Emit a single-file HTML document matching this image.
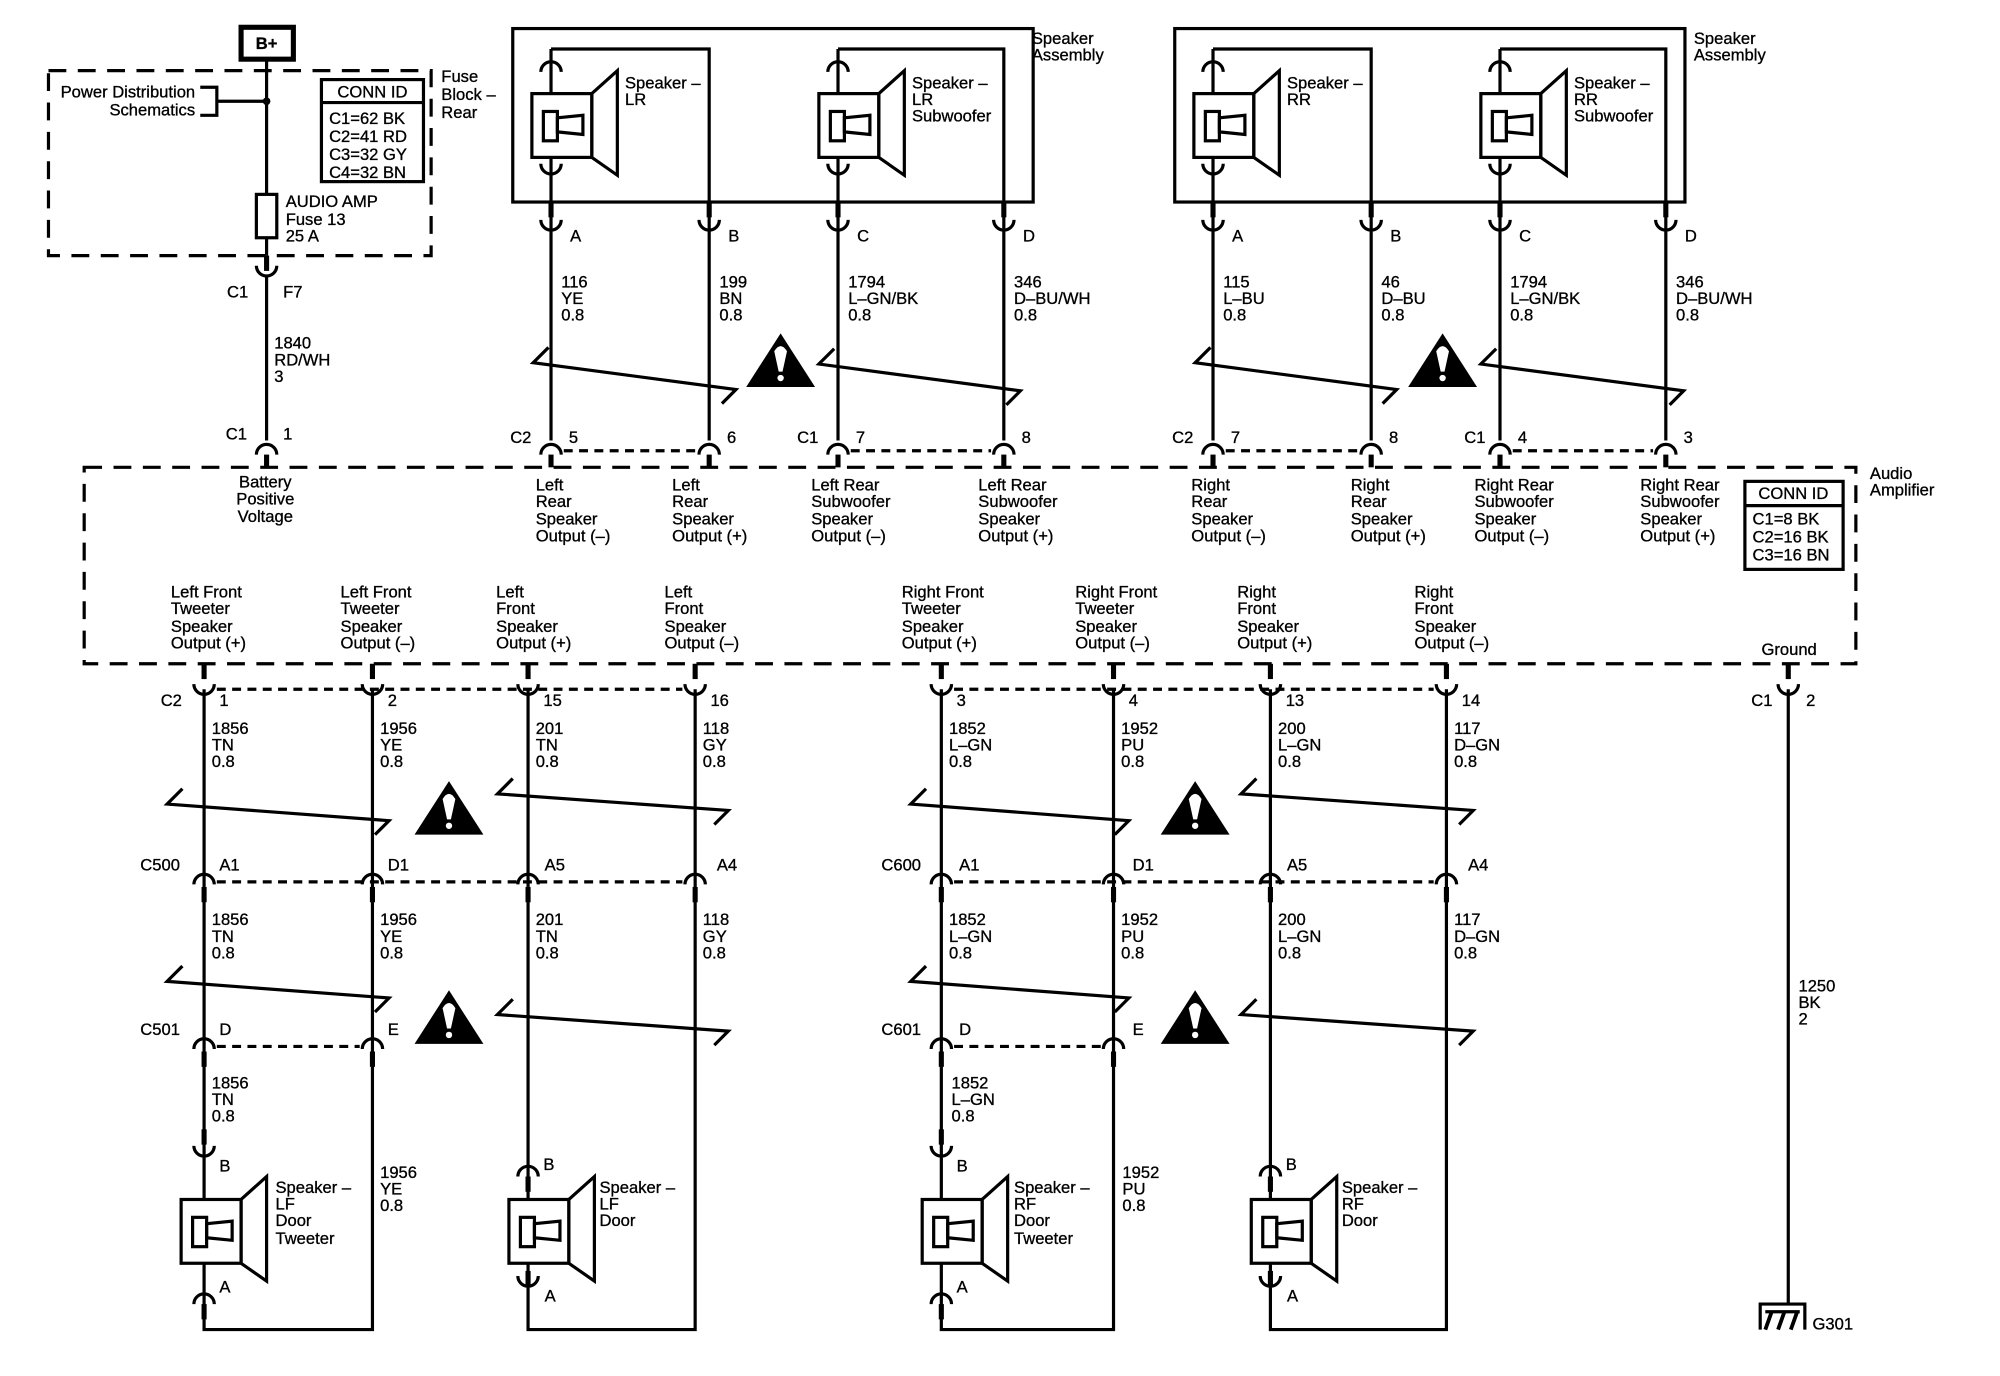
<!DOCTYPE html>
<html><head><meta charset="utf-8"><style>
html,body{margin:0;padding:0;background:#fff}
svg{display:block}
text{font-family:"Liberation Sans",sans-serif;font-size:13px;fill:#000;stroke:#000;stroke-width:0.25}
</style></head><body>
<svg width="2000" height="1376" viewBox="0 0 1568 1078" xmlns="http://www.w3.org/2000/svg">
<defs>
<path id="cap" d="M-8,4 A8,8 0 0 1 8,4" fill="none" stroke="#000" stroke-width="2.5"/>
<path id="cup" d="M-8,-4 A8,8 0 0 0 8,-4" fill="none" stroke="#000" stroke-width="2.5"/>
<g id="spk" fill="none" stroke="#000" stroke-width="2.5">
<rect x="-15" y="0" width="47" height="50" fill="#fff"/>
<polygon points="32,0 52,-18 52,64 32,50"/>
<rect x="-6" y="14" width="11" height="23" fill="#fff"/>
<polygon points="5,19 25,17 25,32 5,30"/>
</g>
<g id="warn"><polygon points="-27,20 0,-22 27,20" fill="#000"/><path d="M-5,-8 Q0,-16 5,-8 L1.5,8 L-1.5,8 Z" fill="#fff"/><circle cx="0" cy="13" r="2.5" fill="#fff"/></g>
</defs>
<g fill="none" stroke="#000" stroke-width="2.5">
<!-- B+ and fuse block -->
<rect x="189" y="21" width="41" height="25" stroke-width="4"/>
<rect x="38" y="55" width="300" height="145" stroke-dasharray="14,9"/>
<line x1="209" y1="46" x2="209" y2="200"/>
<line x1="209" y1="200" x2="209" y2="212" stroke-width="4"/>
<line x1="209" y1="216" x2="209" y2="345"/>
<line x1="209" y1="356" x2="209" y2="366" stroke-width="4"/>
<polyline points="157,68 170,68 170,90 157,90"/>
<line x1="170" y1="79" x2="209" y2="79"/>
<rect x="201" y="152" width="16" height="34" fill="#fff"/>
<rect x="252" y="62" width="80" height="80"/>
<line x1="252" y1="80" x2="332" y2="80"/>
<!-- amp -->
<rect x="66" y="366" width="1389" height="154" stroke-dasharray="14,9"/>
<rect x="1368" y="377" width="77" height="69"/>
<line x1="1368" y1="396" x2="1445" y2="396"/>
<!-- speaker assemblies -->
<rect x="402" y="22" width="408" height="136"/>
<rect x="921" y="22" width="400" height="136"/>
<polyline points="432,38 556,38 556,345"/>
<polyline points="657,38 787,38 787,345"/>
<polyline points="951,38 1075,38 1075,345"/>
<polyline points="1176,38 1306,38 1306,345"/>
<line x1="432" y1="38" x2="432" y2="345"/>
<line x1="657" y1="38" x2="657" y2="345"/>
<line x1="951" y1="38" x2="951" y2="345"/>
<line x1="1176" y1="38" x2="1176" y2="345"/>
<g stroke-width="4">
<line x1="432" y1="158" x2="432" y2="170"/><line x1="556" y1="158" x2="556" y2="170"/><line x1="657" y1="158" x2="657" y2="170"/><line x1="787" y1="158" x2="787" y2="170"/>
<line x1="951" y1="158" x2="951" y2="170"/><line x1="1075" y1="158" x2="1075" y2="170"/><line x1="1176" y1="158" x2="1176" y2="170"/><line x1="1306" y1="158" x2="1306" y2="170"/>
<line x1="432" y1="356" x2="432" y2="366"/><line x1="556" y1="356" x2="556" y2="366"/><line x1="657" y1="356" x2="657" y2="366"/><line x1="787" y1="356" x2="787" y2="366"/>
<line x1="951" y1="356" x2="951" y2="366"/><line x1="1075" y1="356" x2="1075" y2="366"/><line x1="1176" y1="356" x2="1176" y2="366"/><line x1="1306" y1="356" x2="1306" y2="366"/>
</g>
<g stroke-dasharray="7,5">
<line x1="442" y1="353" x2="546" y2="353"/><line x1="667" y1="353" x2="777" y2="353"/>
<line x1="961" y1="353" x2="1065" y2="353"/><line x1="1186" y1="353" x2="1296" y2="353"/>
<line x1="170" y1="540" x2="535" y2="540"/><line x1="748" y1="540" x2="1124" y2="540"/>
<line x1="170" y1="691" x2="535" y2="691"/><line x1="748" y1="691" x2="1124" y2="691"/>
<line x1="170" y1="820" x2="282" y2="820"/><line x1="748" y1="820" x2="863" y2="820"/>
</g>
<!-- twist marks -->
<polyline points="430,272 418,284 577,305 566,316"/>
<polyline points="654,273 642,285 800,306 789,317"/>
<polyline points="949,272 937,284 1095,305 1084,316"/>
<polyline points="1173,273 1161,285 1320,306 1309,317"/>
<polyline points="143,618 131,630 305,643 294,654"/>
<polyline points="402,610 390,622 571,635 560,646"/>
<polyline points="726,618 714,630 885,643 874,654"/>
<polyline points="985,610 973,622 1155,635 1144,646"/>
<polyline points="143,757 131,769 305,782 294,793"/>
<polyline points="402,783 390,795 571,808 560,819"/>
<polyline points="726,757 714,769 885,782 874,793"/>
<polyline points="985,783 973,795 1155,808 1144,819"/>
<!-- bottom stubs from amp -->
<g stroke-width="4">
<line x1="160" y1="520" x2="160" y2="532"/><line x1="292" y1="520" x2="292" y2="532"/><line x1="414" y1="520" x2="414" y2="532"/><line x1="545" y1="520" x2="545" y2="532"/>
<line x1="738" y1="520" x2="738" y2="532"/><line x1="873" y1="520" x2="873" y2="532"/><line x1="996" y1="520" x2="996" y2="532"/><line x1="1134" y1="520" x2="1134" y2="532"/>
<line x1="1402" y1="520" x2="1402" y2="532"/>
<line x1="160" y1="695" x2="160" y2="707"/><line x1="292" y1="695" x2="292" y2="707"/><line x1="414" y1="695" x2="414" y2="707"/><line x1="545" y1="695" x2="545" y2="707"/>
<line x1="738" y1="695" x2="738" y2="707"/><line x1="873" y1="695" x2="873" y2="707"/><line x1="996" y1="695" x2="996" y2="707"/><line x1="1134" y1="695" x2="1134" y2="707"/>
<line x1="160" y1="824" x2="160" y2="836"/><line x1="292" y1="824" x2="292" y2="836"/><line x1="738" y1="824" x2="738" y2="836"/><line x1="873" y1="824" x2="873" y2="836"/>
<line x1="160" y1="885" x2="160" y2="897"/><line x1="738" y1="885" x2="738" y2="897"/>
<line x1="414" y1="922" x2="414" y2="934"/><line x1="996" y1="922" x2="996" y2="934"/>
<line x1="414" y1="996" x2="414" y2="1008"/><line x1="996" y1="996" x2="996" y2="1008"/>
<line x1="160" y1="1022" x2="160" y2="1034"/><line x1="738" y1="1022" x2="738" y2="1034"/>
</g>
<!-- bottom wires -->
<polyline points="160,540 160,1042 292,1042 292,540"/>
<polyline points="414,540 414,1042 545,1042 545,540"/>
<polyline points="738,540 738,1042 873,1042 873,540"/>
<polyline points="996,540 996,1042 1134,1042 1134,540"/>
<line x1="1402" y1="540" x2="1402" y2="1022"/>
<polyline points="1380,1042 1380,1022 1415,1022 1415,1042"/>
<line x1="1384" y1="1042" x2="1389" y2="1028" stroke-width="3"/>
<line x1="1394" y1="1042" x2="1399" y2="1028" stroke-width="3"/>
<line x1="1404" y1="1042" x2="1409" y2="1028" stroke-width="3"/>
<line x1="1384" y1="1028" x2="1411" y2="1028"/>
</g>
<circle cx="209" cy="79" r="3"/>
<!-- connectors -->
<use href="#cup" x="209" y="212"/>
<use href="#cap" x="209" y="352"/>
<use href="#cap" x="432" y="52"/><use href="#cup" x="432" y="132"/>
<use href="#cap" x="657" y="52"/><use href="#cup" x="657" y="132"/>
<use href="#cap" x="951" y="52"/><use href="#cup" x="951" y="132"/>
<use href="#cap" x="1176" y="52"/><use href="#cup" x="1176" y="132"/>
<use href="#cup" x="432" y="176"/><use href="#cup" x="556" y="176"/><use href="#cup" x="657" y="176"/><use href="#cup" x="787" y="176"/>
<use href="#cup" x="951" y="176"/><use href="#cup" x="1075" y="176"/><use href="#cup" x="1176" y="176"/><use href="#cup" x="1306" y="176"/>
<use href="#cap" x="432" y="352"/><use href="#cap" x="556" y="352"/><use href="#cap" x="657" y="352"/><use href="#cap" x="787" y="352"/>
<use href="#cap" x="951" y="352"/><use href="#cap" x="1075" y="352"/><use href="#cap" x="1176" y="352"/><use href="#cap" x="1306" y="352"/>
<use href="#cup" x="160" y="540"/><use href="#cup" x="292" y="540"/><use href="#cup" x="414" y="540"/><use href="#cup" x="545" y="540"/>
<use href="#cup" x="738" y="540"/><use href="#cup" x="873" y="540"/><use href="#cup" x="996" y="540"/><use href="#cup" x="1134" y="540"/>
<use href="#cup" x="1402" y="540"/>
<use href="#cap" x="160" y="689"/><use href="#cap" x="292" y="689"/><use href="#cap" x="414" y="689"/><use href="#cap" x="545" y="689"/>
<use href="#cap" x="738" y="689"/><use href="#cap" x="873" y="689"/><use href="#cap" x="996" y="689"/><use href="#cap" x="1134" y="689"/>
<use href="#cap" x="160" y="818"/><use href="#cap" x="292" y="818"/><use href="#cap" x="738" y="818"/><use href="#cap" x="873" y="818"/>
<use href="#cup" x="160" y="902"/><use href="#cup" x="738" y="902"/>
<use href="#cap" x="414" y="918"/><use href="#cap" x="996" y="918"/>
<use href="#cup" x="414" y="1004"/><use href="#cup" x="996" y="1004"/>
<use href="#cap" x="160" y="1018"/><use href="#cap" x="738" y="1018"/>
<!-- speakers -->
<use href="#spk" x="432" y="73"/><use href="#spk" x="657" y="73"/><use href="#spk" x="951" y="73"/><use href="#spk" x="1176" y="73"/>
<use href="#spk" x="157" y="940"/><use href="#spk" x="414" y="940"/><use href="#spk" x="738" y="940"/><use href="#spk" x="996" y="940"/>
<!-- warnings -->
<use href="#warn" x="612" y="283"/><use href="#warn" x="1131" y="283"/>
<use href="#warn" x="352" y="634"/><use href="#warn" x="937" y="634"/>
<use href="#warn" x="352" y="798"/><use href="#warn" x="937" y="798"/>
<!-- texts -->
<text x="209" y="38" text-anchor="middle" font-weight="bold">B+</text>
<text x="153" y="76" text-anchor="end">Power Distribution</text>
<text x="153" y="90" text-anchor="end">Schematics</text>
<text x="292" y="76" text-anchor="middle">CONN ID</text>
<text x="258" y="97">C1=62 BK</text><text x="258" y="111">C2=41 RD</text><text x="258" y="125">C3=32 GY</text><text x="258" y="139">C4=32 BN</text>
<text x="346" y="64">Fuse</text><text x="346" y="78">Block –</text><text x="346" y="92">Rear</text>
<text x="224" y="162">AUDIO AMP</text><text x="224" y="176">Fuse 13</text><text x="224" y="189">25 A</text>
<text x="178" y="233">C1</text><text x="222" y="233">F7</text>
<text x="215" y="273">1840</text><text x="215" y="286">RD/WH</text><text x="215" y="299">3</text>
<text x="177" y="344">C1</text><text x="222" y="344">1</text>
<text x="208" y="382" text-anchor="middle">Battery</text><text x="208" y="395" text-anchor="middle">Positive</text><text x="208" y="409" text-anchor="middle">Voltage</text>
<text x="809" y="34">Speaker</text><text x="809" y="47">Assembly</text>
<text x="1328" y="34">Speaker</text><text x="1328" y="47">Assembly</text>
<text x="490" y="69">Speaker –</text><text x="490" y="82">LR</text>
<text x="715" y="69">Speaker –</text><text x="715" y="82">LR</text><text x="715" y="95">Subwoofer</text>
<text x="1009" y="69">Speaker –</text><text x="1009" y="82">RR</text>
<text x="1234" y="69">Speaker –</text><text x="1234" y="82">RR</text><text x="1234" y="95">Subwoofer</text>
<text x="447" y="189">A</text><text x="571" y="189">B</text><text x="672" y="189">C</text><text x="802" y="189">D</text>
<text x="966" y="189">A</text><text x="1090" y="189">B</text><text x="1191" y="189">C</text><text x="1321" y="189">D</text>
<text x="440" y="225">116</text><text x="440" y="238">YE</text><text x="440" y="251">0.8</text>
<text x="564" y="225">199</text><text x="564" y="238">BN</text><text x="564" y="251">0.8</text>
<text x="665" y="225">1794</text><text x="665" y="238">L–GN/BK</text><text x="665" y="251">0.8</text>
<text x="795" y="225">346</text><text x="795" y="238">D–BU/WH</text><text x="795" y="251">0.8</text>
<text x="959" y="225">115</text><text x="959" y="238">L–BU</text><text x="959" y="251">0.8</text>
<text x="1083" y="225">46</text><text x="1083" y="238">D–BU</text><text x="1083" y="251">0.8</text>
<text x="1184" y="225">1794</text><text x="1184" y="238">L–GN/BK</text><text x="1184" y="251">0.8</text>
<text x="1314" y="225">346</text><text x="1314" y="238">D–BU/WH</text><text x="1314" y="251">0.8</text>
<text x="400" y="347">C2</text><text x="446" y="347">5</text><text x="570" y="347">6</text>
<text x="625" y="347">C1</text><text x="671" y="347">7</text><text x="801" y="347">8</text>
<text x="919" y="347">C2</text><text x="965" y="347">7</text><text x="1089" y="347">8</text>
<text x="1148" y="347">C1</text><text x="1190" y="347">4</text><text x="1320" y="347">3</text>
<text x="420" y="384">Left</text><text x="420" y="397">Rear</text><text x="420" y="411">Speaker</text><text x="420" y="424">Output (–)</text>
<text x="527" y="384">Left</text><text x="527" y="397">Rear</text><text x="527" y="411">Speaker</text><text x="527" y="424">Output (+)</text>
<text x="636" y="384">Left Rear</text><text x="636" y="397">Subwoofer</text><text x="636" y="411">Speaker</text><text x="636" y="424">Output (–)</text>
<text x="767" y="384">Left Rear</text><text x="767" y="397">Subwoofer</text><text x="767" y="411">Speaker</text><text x="767" y="424">Output (+)</text>
<text x="934" y="384">Right</text><text x="934" y="397">Rear</text><text x="934" y="411">Speaker</text><text x="934" y="424">Output (–)</text>
<text x="1059" y="384">Right</text><text x="1059" y="397">Rear</text><text x="1059" y="411">Speaker</text><text x="1059" y="424">Output (+)</text>
<text x="1156" y="384">Right Rear</text><text x="1156" y="397">Subwoofer</text><text x="1156" y="411">Speaker</text><text x="1156" y="424">Output (–)</text>
<text x="1286" y="384">Right Rear</text><text x="1286" y="397">Subwoofer</text><text x="1286" y="411">Speaker</text><text x="1286" y="424">Output (+)</text>
<text x="1406" y="391" text-anchor="middle">CONN ID</text>
<text x="1374" y="411">C1=8 BK</text><text x="1374" y="425">C2=16 BK</text><text x="1374" y="439">C3=16 BN</text>
<text x="1466" y="375">Audio</text><text x="1466" y="388">Amplifier</text>
<text x="134" y="468">Left Front</text><text x="134" y="481">Tweeter</text><text x="134" y="495">Speaker</text><text x="134" y="508">Output (+)</text>
<text x="267" y="468">Left Front</text><text x="267" y="481">Tweeter</text><text x="267" y="495">Speaker</text><text x="267" y="508">Output (–)</text>
<text x="389" y="468">Left</text><text x="389" y="481">Front</text><text x="389" y="495">Speaker</text><text x="389" y="508">Output (+)</text>
<text x="521" y="468">Left</text><text x="521" y="481">Front</text><text x="521" y="495">Speaker</text><text x="521" y="508">Output (–)</text>
<text x="707" y="468">Right Front</text><text x="707" y="481">Tweeter</text><text x="707" y="495">Speaker</text><text x="707" y="508">Output (+)</text>
<text x="843" y="468">Right Front</text><text x="843" y="481">Tweeter</text><text x="843" y="495">Speaker</text><text x="843" y="508">Output (–)</text>
<text x="970" y="468">Right</text><text x="970" y="481">Front</text><text x="970" y="495">Speaker</text><text x="970" y="508">Output (+)</text>
<text x="1109" y="468">Right</text><text x="1109" y="481">Front</text><text x="1109" y="495">Speaker</text><text x="1109" y="508">Output (–)</text>
<text x="1381" y="513">Ground</text>
<text x="126" y="553">C2</text><text x="172" y="553">1</text><text x="304" y="553">2</text><text x="426" y="553">15</text><text x="557" y="553">16</text>
<text x="750" y="553">3</text><text x="885" y="553">4</text><text x="1008" y="553">13</text><text x="1146" y="553">14</text>
<text x="1373" y="553">C1</text><text x="1416" y="553">2</text>
<g>
<text x="166" y="575">1856</text><text x="166" y="588">TN</text><text x="166" y="601">0.8</text>
<text x="298" y="575">1956</text><text x="298" y="588">YE</text><text x="298" y="601">0.8</text>
<text x="420" y="575">201</text><text x="420" y="588">TN</text><text x="420" y="601">0.8</text>
<text x="551" y="575">118</text><text x="551" y="588">GY</text><text x="551" y="601">0.8</text>
<text x="744" y="575">1852</text><text x="744" y="588">L–GN</text><text x="744" y="601">0.8</text>
<text x="879" y="575">1952</text><text x="879" y="588">PU</text><text x="879" y="601">0.8</text>
<text x="1002" y="575">200</text><text x="1002" y="588">L–GN</text><text x="1002" y="601">0.8</text>
<text x="1140" y="575">117</text><text x="1140" y="588">D–GN</text><text x="1140" y="601">0.8</text>
</g>
<text x="110" y="682">C500</text><text x="172" y="682">A1</text><text x="304" y="682">D1</text><text x="427" y="682">A5</text><text x="562" y="682">A4</text>
<text x="691" y="682">C600</text><text x="752" y="682">A1</text><text x="888" y="682">D1</text><text x="1009" y="682">A5</text><text x="1151" y="682">A4</text>
<g>
<text x="166" y="725">1856</text><text x="166" y="738">TN</text><text x="166" y="751">0.8</text>
<text x="298" y="725">1956</text><text x="298" y="738">YE</text><text x="298" y="751">0.8</text>
<text x="420" y="725">201</text><text x="420" y="738">TN</text><text x="420" y="751">0.8</text>
<text x="551" y="725">118</text><text x="551" y="738">GY</text><text x="551" y="751">0.8</text>
<text x="744" y="725">1852</text><text x="744" y="738">L–GN</text><text x="744" y="751">0.8</text>
<text x="879" y="725">1952</text><text x="879" y="738">PU</text><text x="879" y="751">0.8</text>
<text x="1002" y="725">200</text><text x="1002" y="738">L–GN</text><text x="1002" y="751">0.8</text>
<text x="1140" y="725">117</text><text x="1140" y="738">D–GN</text><text x="1140" y="751">0.8</text>
</g>
<text x="110" y="811">C501</text><text x="172" y="811">D</text><text x="304" y="811">E</text>
<text x="691" y="811">C601</text><text x="752" y="811">D</text><text x="888" y="811">E</text>
<text x="166" y="853">1856</text><text x="166" y="866">TN</text><text x="166" y="879">0.8</text>
<text x="746" y="853">1852</text><text x="746" y="866">L–GN</text><text x="746" y="879">0.8</text>
<text x="298" y="923">1956</text><text x="298" y="936">YE</text><text x="298" y="949">0.8</text>
<text x="880" y="923">1952</text><text x="880" y="936">PU</text><text x="880" y="949">0.8</text>
<text x="1410" y="777">1250</text><text x="1410" y="790">BK</text><text x="1410" y="803">2</text>
<text x="172" y="918">B</text><text x="172" y="1013">A</text>
<text x="426" y="917">B</text><text x="427" y="1020">A</text>
<text x="750" y="918">B</text><text x="750" y="1013">A</text>
<text x="1008" y="917">B</text><text x="1009" y="1020">A</text>
<text x="216" y="935">Speaker –</text><text x="216" y="948">LF</text><text x="216" y="961">Door</text><text x="216" y="975">Tweeter</text>
<text x="470" y="935">Speaker –</text><text x="470" y="948">LF</text><text x="470" y="961">Door</text>
<text x="795" y="935">Speaker –</text><text x="795" y="948">RF</text><text x="795" y="961">Door</text><text x="795" y="975">Tweeter</text>
<text x="1052" y="935">Speaker –</text><text x="1052" y="948">RF</text><text x="1052" y="961">Door</text>
<text x="1421" y="1042">G301</text>
</svg>
</body></html>
